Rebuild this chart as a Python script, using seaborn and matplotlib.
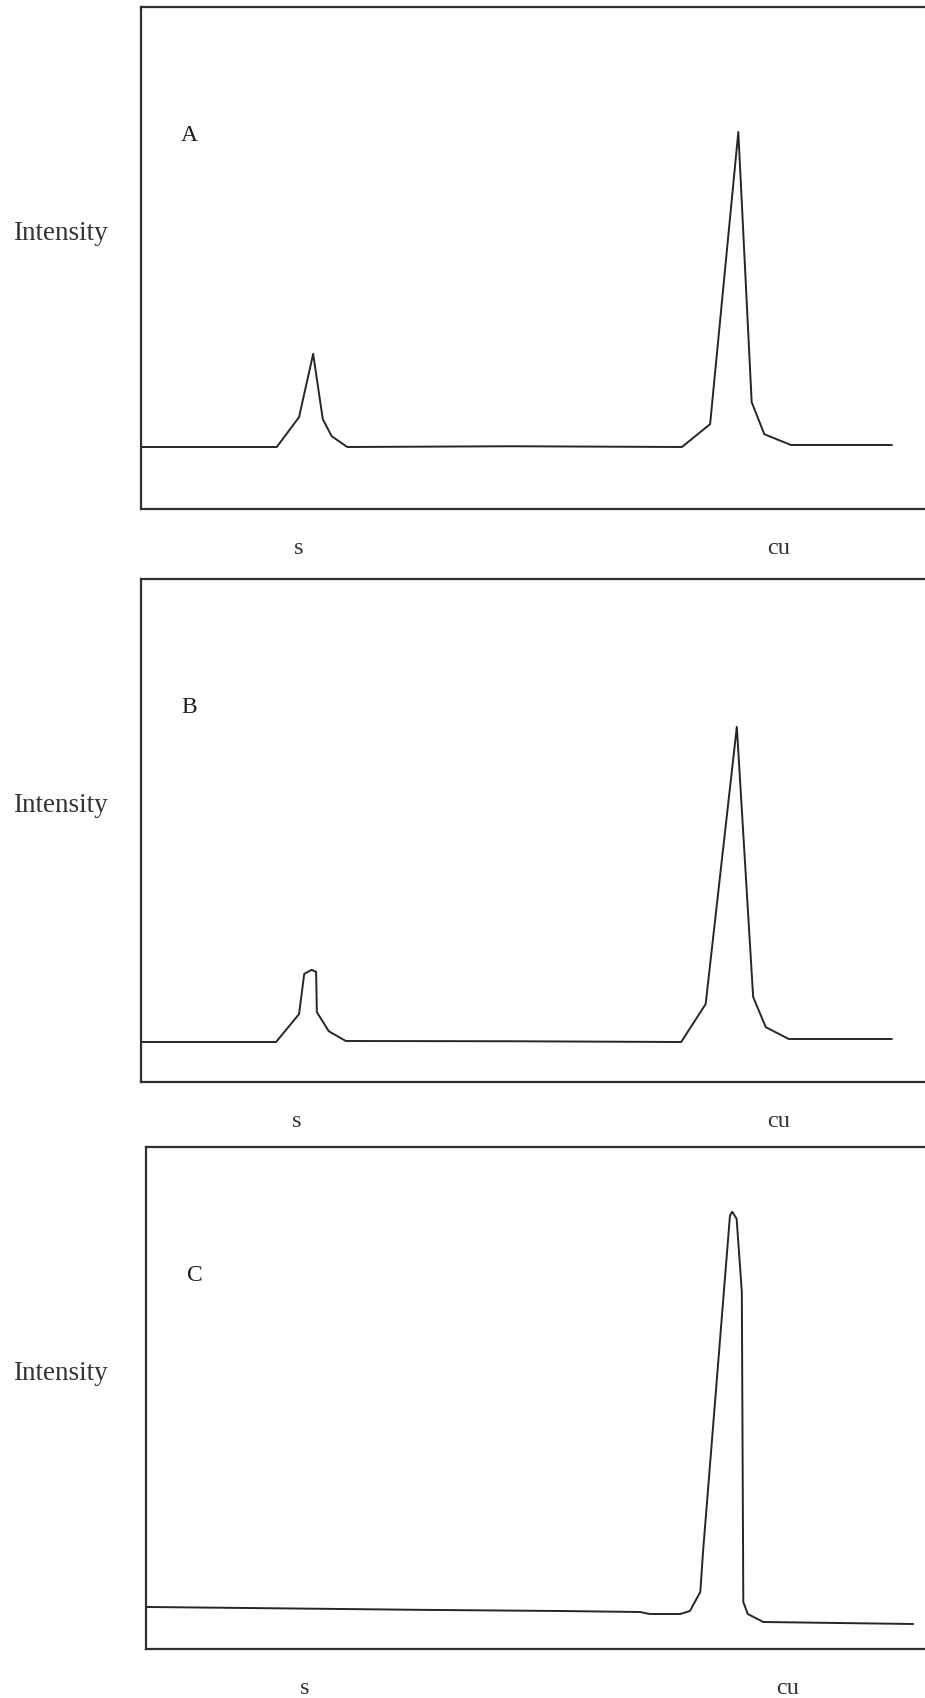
import matplotlib
matplotlib.use("Agg")
import matplotlib.pyplot as plt
import pandas as pd
import seaborn as sns

# EDX spectra of three samples: energy (keV) vs. intensity (arbitrary units)
energy_a = [0.00, 1.83, 2.13, 2.32, 2.45, 2.57, 2.78, 5.00, 7.29, 7.67, 8.05, 8.23, 8.40, 8.76, 10.12]
intensity_a = [12.35, 12.35, 18.3, 30.9, 17.9, 14.5, 12.35, 12.5, 12.35, 16.9, 75.1, 21.3, 14.9, 12.75, 12.75]

energy_b = [0.00, 1.82, 2.13, 2.20, 2.30, 2.36, 2.37, 2.53, 2.76, 5.00, 7.28, 7.61, 8.03, 8.25, 8.42, 8.73, 10.12]
intensity_b = [7.95, 7.95, 13.5, 21.5, 22.3, 21.9, 13.9, 10.1, 8.15, 8.1, 7.95, 15.5, 70.6, 16.9, 10.9, 8.55, 8.55]

energy_c = [0.01, 1.80, 3.70, 5.58, 6.66, 6.79, 7.20, 7.33, 7.47, 7.51, 7.87, 7.90, 7.96, 8.03, 8.05, 8.11, 8.32, 10.34]
intensity_c = [8.37, 8.1, 7.8, 7.57, 7.37, 6.97, 6.97, 7.57, 11.35, 19.9, 86.3, 87.1, 85.7, 71.1, 9.36, 6.97, 5.38, 4.98]

panel_letters = ["A", "B", "C"]
peak_labels = ["s", "cu"]
peak_label_pos = [[2.13, 8.60], [2.10, 8.60], [2.14, 8.65]]
y_label = "Intensity"

spectra = [
    pd.DataFrame({"energy": energy_a, "intensity": intensity_a}),
    pd.DataFrame({"energy": energy_b, "intensity": intensity_b}),
    pd.DataFrame({"energy": energy_c, "intensity": intensity_c}),
]

sns.set_theme(style="white")
plt.rcParams["font.family"] = ["Liberation Serif", "DejaVu Serif"]

W, H = 925, 1699
fig = plt.figure(figsize=(W / 100, H / 100), dpi=100)
fig.patch.set_facecolor("white")

# panel frames in pixels: (left, top, bottom)
frames = [(141, 8, 510), (141, 580, 1083), (146, 1148, 1650)]
px_per_kev = 74.2
ink = "#262626"

for i, (df, (left, top, bottom)) in enumerate(zip(spectra, frames)):
    width = 784
    ax = fig.add_axes([left / W, (H - bottom) / H, width / W, (bottom - top) / H])
    sns.lineplot(data=df, x="energy", y="intensity", ax=ax, color=ink,
                 linewidth=1.4, estimator=None, sort=False)
    ax.set_xlim(0, width / px_per_kev)
    ax.set_ylim(0, 100)
    ax.set_xticks([])
    ax.set_yticks([])
    ax.set_xlabel("")
    ax.set_ylabel("")
    for side in ("top", "left", "bottom"):
        ax.spines[side].set_visible(True)
        ax.spines[side].set_color("#303030")
        ax.spines[side].set_linewidth(1.6)
    ax.spines["right"].set_visible(False)
    ax.set_facecolor("white")

    ax.text(0.062, 0.735, panel_letters[i], transform=ax.transAxes,
            fontsize=17, color="#1e1e1e", ha="center", va="baseline")

    # element labels below the frame
    for lab, xpos in zip(peak_labels, peak_label_pos[i]):
        ax.text(xpos, -0.087, lab, transform=ax.get_xaxis_transform(),
                fontsize=17.5, color="#333333", ha="center", va="baseline")

    # vertical axis caption, written horizontally to the left
    y_base = (H - (bottom - 0.538 * (bottom - top))) / H
    fig.text(60 / W, y_base, y_label, fontsize=19.5, color="#333333",
             ha="center", va="baseline")

fig.savefig("out.png", dpi=100, facecolor="white")
